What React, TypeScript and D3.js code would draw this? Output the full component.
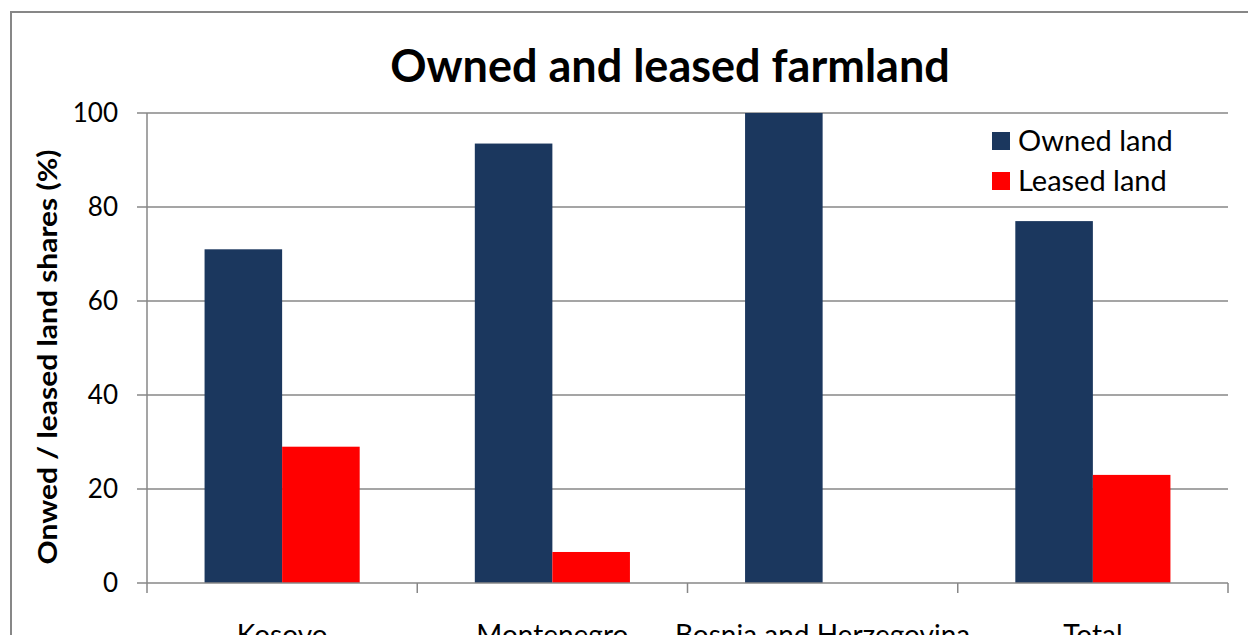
import React from "react";
import * as d3 from "d3";

const categories = ["Kosovo", "Montenegro", "Bosnia and Herzegovina", "Total"];
const seriesNames = ["Owned land", "Leased land"];
const ownedValues = [71, 93.5, 100, 77];
const leasedValues = [29, 6.6, 0, 23];
const yTicks = [0, 20, 40, 60, 80, 100];
const colors = ["#1B375E", "#FF0000"];

const W = 1248;
const H = 635;
const left = 147;
const right = 1228;
const top = 113;
const bottom = 583;
const FONT = "Lato, 'Open Sans', sans-serif";

export default function App() {
  const x0 = d3.scaleBand<string>().domain(categories).range([left, right]).padding(0);
  const bw = x0.bandwidth();
  const x1 = d3
    .scaleBand<string>()
    .domain(seriesNames)
    .range([bw * 0.213, bw * 0.787])
    .padding(0);
  const y = d3.scaleLinear().domain([0, 100]).range([bottom, top]);
  const values = [ownedValues, leasedValues];
  const boundaries = [...categories.map((c) => x0(c) as number), right];

  return (
    <svg
      width={W}
      height={H}
      style={{ position: "absolute", left: 0, top: 0, background: "#fff" }}
      fontFamily={FONT}
    >
      <rect x={11} y={12} width={W + 20} height={H + 20} fill="#fff" stroke="#878787" strokeWidth={2} />
      <text x={670} y={82} textAnchor="middle" fontSize={45} fontWeight={700} fill="#000">
        Owned and leased farmland
      </text>
      {yTicks.map((t) => (
        <g key={t}>
          {t > 0 && (
            <line x1={left} x2={right} y1={y(t)} y2={y(t)} stroke="#878787" strokeWidth={1.5} />
          )}
          <line x1={left - 10} x2={left} y1={y(t)} y2={y(t)} stroke="#878787" strokeWidth={1.5} />
          <text x={118} y={y(t)} dy="0.35em" textAnchor="end" fontSize={26} fill="#000">
            {t}
          </text>
        </g>
      ))}
      {categories.map((c, i) => (
        <g key={c}>
          {seriesNames.map((s, j) => {
            const v = values[j][i];
            if (v <= 0) return null;
            return (
              <rect
                key={s}
                x={(x0(c) as number) + (x1(s) as number)}
                y={y(v)}
                width={x1.bandwidth()}
                height={y(0) - y(v)}
                fill={colors[j]}
              />
            );
          })}
          <text
            x={(x0(c) as number) + bw / 2}
            y={645}
            textAnchor="middle"
            fontSize={28}
            fill="#000"
          >
            {c}
          </text>
        </g>
      ))}
      <line x1={left} x2={left} y1={top} y2={bottom} stroke="#878787" strokeWidth={1.5} />
      <line x1={left} x2={right} y1={bottom} y2={bottom} stroke="#878787" strokeWidth={1.5} />
      {boundaries.map((b, i) => (
        <line key={i} x1={b} x2={b} y1={bottom} y2={bottom + 10} stroke="#878787" strokeWidth={1.5} />
      ))}
      <text
        transform={`translate(57, 357) rotate(-90)`}
        textAnchor="middle"
        fontSize={26}
        fontWeight={700}
        fill="#000"
        textLength={415}
        lengthAdjust="spacingAndGlyphs"
      >
        Onwed / leased land shares (%)
      </text>
      {seriesNames.map((s, j) => (
        <g key={s} transform={`translate(992, ${132 + j * 40})`}>
          <rect x={0} y={0} width={18} height={18} fill={colors[j]} />
          <text x={26} y={9} dy="0.35em" fontSize={29} fill="#000">
            {s}
          </text>
        </g>
      ))}
    </svg>
  );
}
